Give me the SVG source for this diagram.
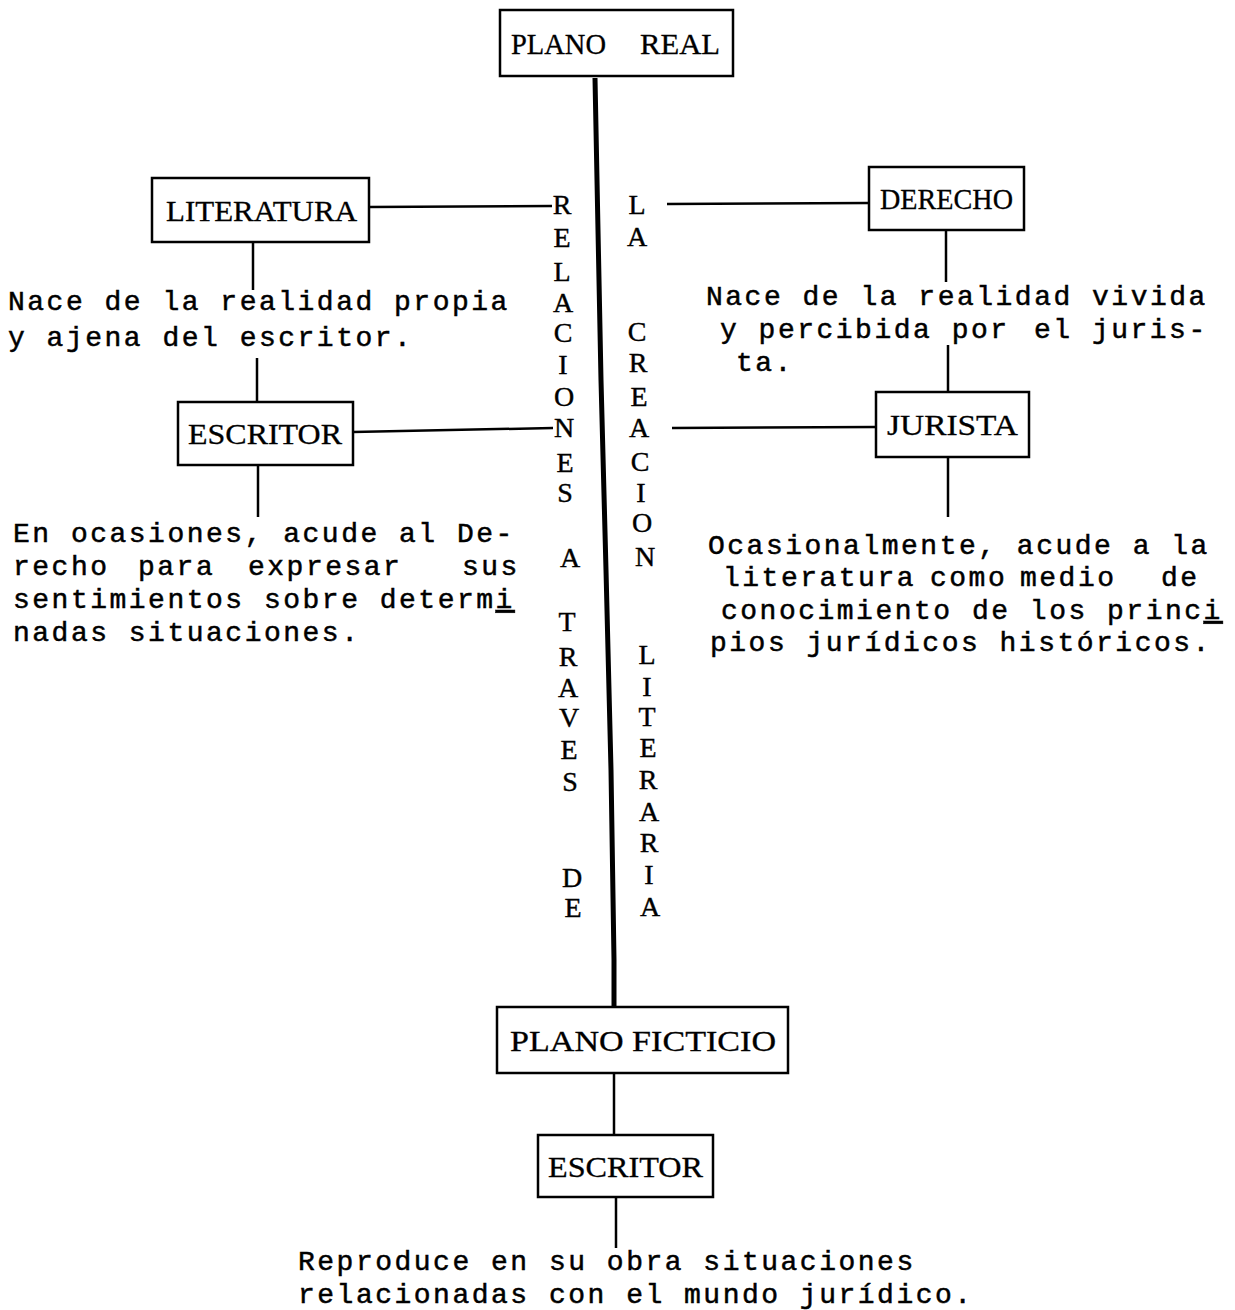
<svg xmlns="http://www.w3.org/2000/svg" width="1235" height="1310" viewBox="0 0 1235 1310">
<style>
.box{fill:#fff;stroke:#000;stroke-width:2.5}
.lbl{font-family:"Liberation Serif","Times New Roman",serif;font-size:30px;fill:#000;stroke:#000;stroke-width:0.3}
.col{font-family:"Liberation Serif","Times New Roman",serif;font-size:28px;fill:#000;stroke:#000;stroke-width:0.4;text-anchor:middle}
.mono{font-family:"Liberation Mono","Courier New",monospace;font-size:28px;letter-spacing:2.5px;fill:#000;stroke:#000;stroke-width:0.5}
.ln{stroke:#000;stroke-width:2.5;fill:none}
.thick{stroke:#000;stroke-width:5;fill:none;stroke-linejoin:round}
.ul{text-decoration:underline}
</style>
<rect width="1235" height="1310" fill="#fff"/>
<g id="connectors">
<polyline class="thick" points="595,78 597,180 601,380 606,570 611,770 614,960 614,1007"/>
<line class="ln" x1="369" y1="207" x2="552" y2="206"/>
<line class="ln" x1="353" y1="432" x2="553" y2="428"/>
<line class="ln" x1="667" y1="204" x2="869" y2="203"/>
<line class="ln" x1="672" y1="428" x2="876" y2="427"/>
<line class="ln" x1="253" y1="242" x2="253" y2="290"/>
<line class="ln" x1="257" y1="358" x2="257" y2="402"/>
<line class="ln" x1="258" y1="465" x2="258" y2="517"/>
<line class="ln" x1="946" y1="230" x2="946" y2="282"/>
<line class="ln" x1="948" y1="345" x2="948" y2="392"/>
<line class="ln" x1="948" y1="457" x2="948" y2="517"/>
<line class="ln" x1="614" y1="1073" x2="614" y2="1135"/>
<line class="ln" x1="616" y1="1197" x2="616" y2="1248"/>
</g>
<g id="plano-real">
<rect class="box" x="500" y="10" width="233" height="66"/>
<text class="lbl" y="54"><tspan x="511" textLength="95" lengthAdjust="spacingAndGlyphs">PLANO</tspan> <tspan x="640" textLength="80" lengthAdjust="spacingAndGlyphs">REAL</tspan></text>
</g>
<g id="literatura">
<rect class="box" x="152" y="178" width="217" height="64"/>
<text class="lbl" x="166" y="221" textLength="191" lengthAdjust="spacingAndGlyphs">LITERATURA</text>
</g>
<g id="escritor-real">
<rect class="box" x="178" y="402" width="175" height="63"/>
<text class="lbl" x="188" y="444" textLength="154" lengthAdjust="spacingAndGlyphs">ESCRITOR</text>
</g>
<g id="derecho">
<rect class="box" x="869" y="167" width="155" height="63"/>
<text class="lbl" x="880" y="209" textLength="133" lengthAdjust="spacingAndGlyphs">DERECHO</text>
</g>
<g id="jurista">
<rect class="box" x="876" y="392" width="153" height="65"/>
<text class="lbl" x="887" y="435" textLength="131" lengthAdjust="spacingAndGlyphs">JURISTA</text>
</g>
<g id="plano-ficticio">
<rect class="box" x="497" y="1007" width="291" height="66"/>
<text class="lbl" x="510" y="1051" textLength="266" lengthAdjust="spacingAndGlyphs">PLANO FICTICIO</text>
</g>
<g id="escritor-ficticio">
<rect class="box" x="538" y="1135" width="175" height="62"/>
<text class="lbl" x="548" y="1177" textLength="155" lengthAdjust="spacingAndGlyphs">ESCRITOR</text>
</g>
<g id="relaciones">
<text class="col" x="562" y="214">R</text>
<text class="col" x="562" y="247">E</text>
<text class="col" x="562" y="281">L</text>
<text class="col" x="563" y="312">A</text>
<text class="col" x="563" y="342">C</text>
<text class="col" x="563" y="374">I</text>
<text class="col" x="564" y="406">O</text>
<text class="col" x="564" y="437">N</text>
<text class="col" x="565" y="472">E</text>
<text class="col" x="565" y="502">S</text>
<text class="col" x="570" y="567">A</text>
<text class="col" x="567" y="631">T</text>
<text class="col" x="568" y="666">R</text>
<text class="col" x="568" y="697">A</text>
<text class="col" x="569" y="727">V</text>
<text class="col" x="569" y="759">E</text>
<text class="col" x="570" y="791">S</text>
<text class="col" x="572" y="887">D</text>
<text class="col" x="573" y="917">E</text>
</g>
<g id="creacion">
<text class="col" x="637" y="214">L</text>
<text class="col" x="637" y="246">A</text>
<text class="col" x="637" y="341">C</text>
<text class="col" x="638" y="372">R</text>
<text class="col" x="639" y="406">E</text>
<text class="col" x="639" y="437">A</text>
<text class="col" x="640" y="471">C</text>
<text class="col" x="641" y="502">I</text>
<text class="col" x="642" y="532">O</text>
<text class="col" x="645" y="566">N</text>
<text class="col" x="647" y="664">L</text>
<text class="col" x="647" y="696">I</text>
<text class="col" x="647" y="726">T</text>
<text class="col" x="648" y="757">E</text>
<text class="col" x="648" y="789">R</text>
<text class="col" x="649" y="821">A</text>
<text class="col" x="649" y="852">R</text>
<text class="col" x="649" y="884">I</text>
<text class="col" x="650" y="916">A</text>
</g>
<g id="texto-literatura">
<text class="mono" x="8" y="310">Nace de la realidad propia</text>
<text class="mono" x="8" y="346">y ajena del escritor.</text>
</g>
<g id="texto-escritor">
<text class="mono" x="13" y="542">En ocasiones, acude al De-</text>
<text class="mono" y="575"><tspan x="13">recho</tspan> <tspan x="138">para</tspan> <tspan x="248">expresar</tspan> <tspan x="462">sus</tspan></text>
<text class="mono" x="13" y="608">sentimientos sobre determ<tspan class="ul">i</tspan></text>
<text class="mono" x="13" y="641">nadas situaciones.</text>
</g>
<g id="texto-derecho">
<text class="mono" x="706" y="305">Nace de la realidad vivida</text>
<text class="mono" y="338"><tspan x="720">y percibida por</tspan> <tspan x="1034">el juris-</tspan></text>
<text class="mono" x="736" y="371">ta.</text>
</g>
<g id="texto-jurista">
<text class="mono" x="708" y="554">Ocasionalmente, acude a la</text>
<text class="mono" y="586"><tspan x="723">literatura</tspan> <tspan x="930">como</tspan> <tspan x="1020">medio</tspan> <tspan x="1161">de</tspan></text>
<text class="mono" x="721" y="619">conocimiento de los princ<tspan class="ul">i</tspan></text>
<text class="mono" x="710" y="651">pios jurídicos históricos.</text>
</g>
<g id="texto-ficticio">
<text class="mono" x="298" y="1270">Reproduce en su obra situaciones</text>
<text class="mono" x="298" y="1303">relacionadas con el mundo jurídico.</text>
</g>
</svg>
